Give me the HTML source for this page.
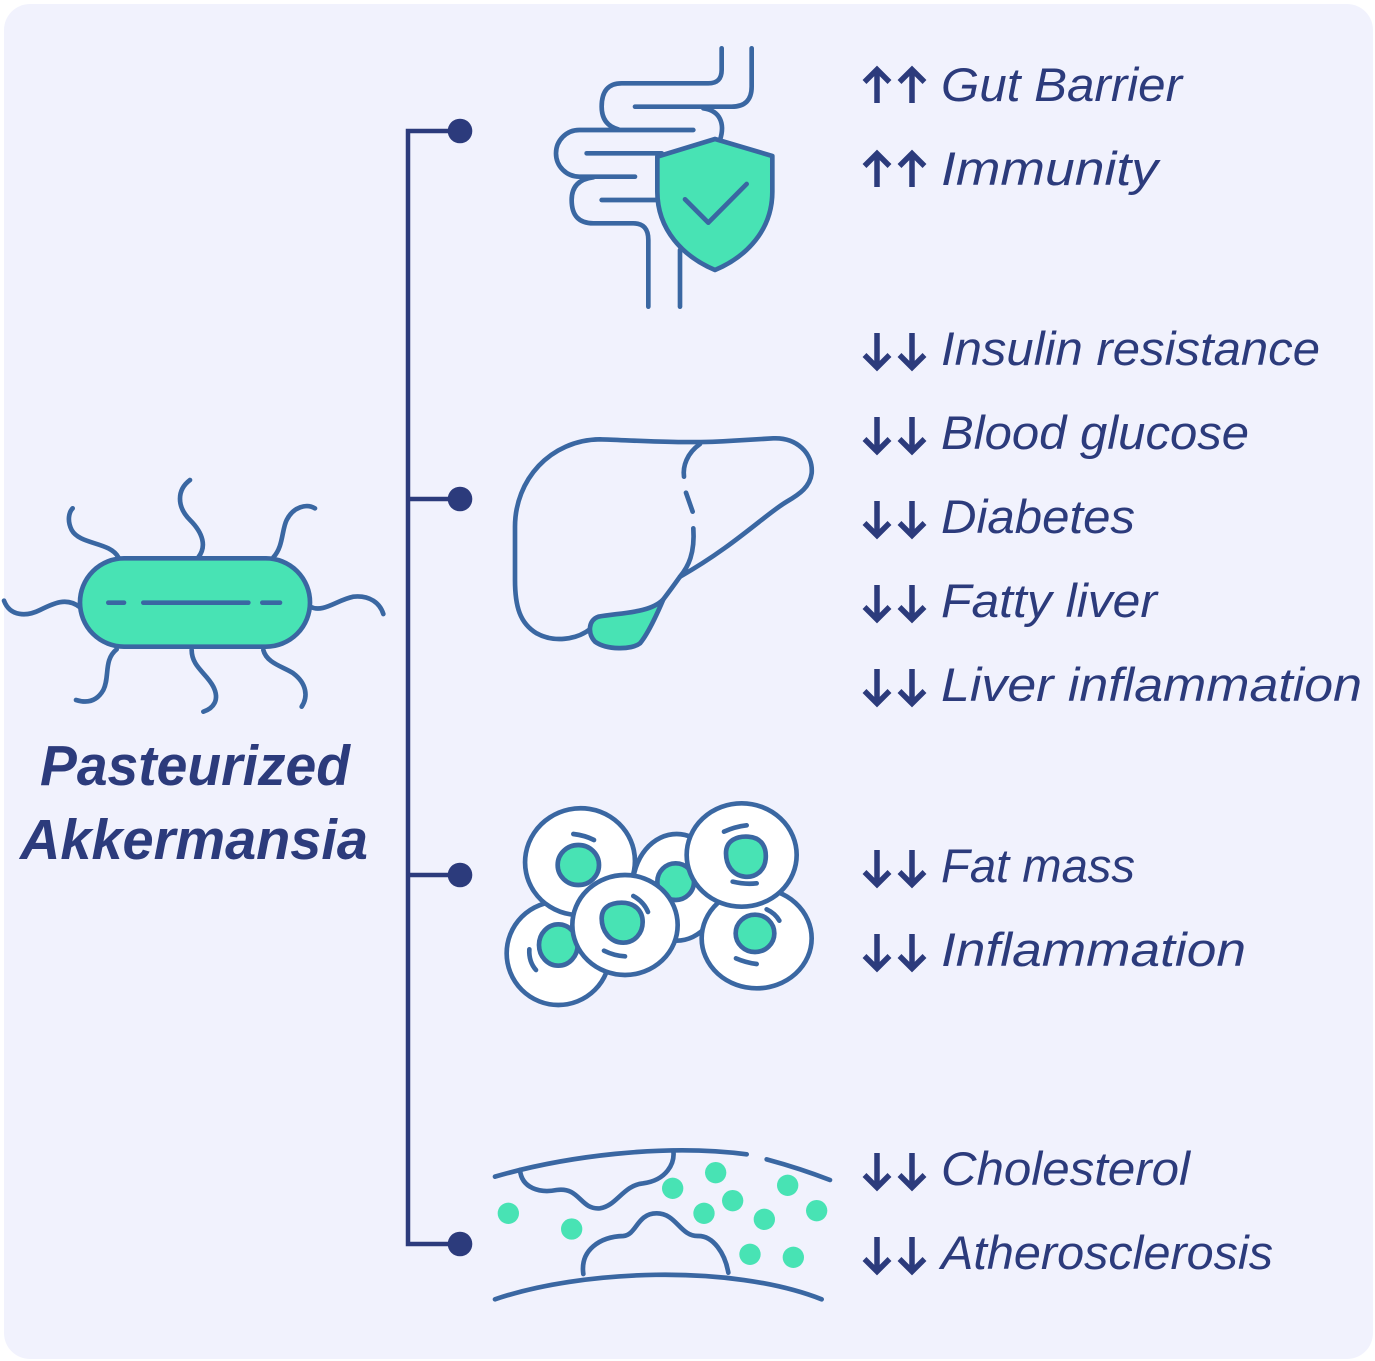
<!DOCTYPE html>
<html>
<head>
<meta charset="utf-8">
<style>
html,body{margin:0;padding:0;background:#ffffff;}
body{width:1375px;height:1361px;overflow:hidden;}
svg{display:block;}
.t{font-family:"Liberation Sans",sans-serif;font-style:italic;font-size:47px;fill:#2c3b7c;}
.ttl{font-family:"Liberation Sans",sans-serif;font-style:italic;font-weight:bold;font-size:57px;fill:#2c3b7c;}
.ic{fill:none;stroke:#3a67a2;stroke-width:14;stroke-linecap:round;stroke-linejoin:round;}
.icf{stroke:#3a67a2;stroke-width:14;stroke-linejoin:round;}
.ar{fill:none;stroke:#2c3b7c;stroke-width:5.5;stroke-linecap:butt;stroke-linejoin:miter;}
</style>
</head>
<body>
<svg width="1375" height="1361" viewBox="0 0 1375 1361" xmlns="http://www.w3.org/2000/svg">
  <rect x="4" y="4" width="1369" height="1355" rx="26" ry="26" fill="#f1f2fd"/>

  <!-- connector -->
  <g stroke="#2c3b7c" stroke-width="4.5" fill="none">
    <path d="M460,131 H408 V1244 H460"/>
    <path d="M408,499 H460"/>
    <path d="M408,875 H460"/>
  </g>
  <g fill="#2c3b7c">
    <circle cx="460" cy="131" r="12.3"/>
    <circle cx="460" cy="499" r="12.3"/>
    <circle cx="460" cy="875" r="12.3"/>
    <circle cx="460" cy="1244" r="12.3"/>
  </g>

  <!-- Bacterium -->
  <g transform="translate(0,470) scale(0.33333)">
    <path class="ic" d="M355,262 C330,215 240,225 215,180 C200,150 208,125 218,115"/>
    <path class="ic" d="M595,262 C620,230 610,190 570,150 C530,110 530,60 570,30"/>
    <path class="ic" d="M820,262 C850,230 845,180 860,150 C880,110 920,100 945,115"/>
    <path class="ic" d="M240,412 C200,380 160,400 120,420 C80,440 30,440 12,392"/>
    <path class="ic" d="M930,410 C970,430 1010,390 1060,380 C1110,375 1140,400 1150,432"/>
    <path class="ic" d="M350,538 C310,570 330,620 310,660 C290,695 260,700 228,690"/>
    <path class="ic" d="M575,540 C575,590 620,610 640,650 C660,690 640,715 610,725"/>
    <path class="ic" d="M790,540 C800,580 850,590 880,610 C920,640 925,680 905,710"/>
    <rect x="240" y="265" width="690" height="265" rx="132" ry="132" fill="#48e3b4" class="icf"/>
    <path class="ic" d="M325,398 H372 M430,398 H745 M787,398 H840"/>
  </g>

  <text class="ttl" x="195" y="785" text-anchor="middle" textLength="310" lengthAdjust="spacingAndGlyphs">Pasteurized</text>
  <text class="ttl" x="194" y="859" text-anchor="middle" textLength="348" lengthAdjust="spacingAndGlyphs">Akkermansia</text>

  <!-- Intestine + shield -->
  <g transform="translate(540,40) scale(0.33333)">
    <path class="ic" d="M545,25 V90 Q545,130 505,130 H245 Q185,130 185,200 Q185,255 235,268"/>
    <path class="ic" d="M635,25 V140 Q635,200 575,200 H285"/>
    <path class="ic" d="M490,205 C540,212 556,250 540,300"/>
    <path class="ic" d="M460,270 H118 A70,70 0 0 0 118,410 H285"/>
    <path class="ic" d="M140,340 H365"/>
    <path class="ic" d="M185,480 H365"/>
    <path class="ic" d="M160,412 Q95,420 95,480 Q95,550 160,550 H280 Q325,550 325,600 V800"/>
    <path class="ic" d="M420,630 V800"/>
    <path class="icf" fill="#48e3b4" d="M525,297 L697,348 V455 C697,570 620,650 525,690 C430,650 352,570 352,455 V350 Z"/>
    <path class="ic" d="M435,478 L505,548 L620,432"/>
  </g>

  <!-- Liver -->
  <g transform="translate(500,420) scale(0.33333)">
    <path class="ic" d="M272,626 C230,660 160,668 110,640 C60,610 45,560 45,480 V320 C45,180 150,60 300,58 C420,62 560,72 700,62 L820,55 C890,52 940,100 935,160 C930,200 900,222 860,245 C800,280 700,380 540,470"/>
    <path class="ic" d="M600,72 C560,100 548,140 552,170"/>
    <path class="ic" d="M558,218 L578,275"/>
    <path class="ic" d="M580,325 C585,400 565,440 540,470 C515,505 500,525 490,538"/>
    <path class="icf" fill="#48e3b4" d="M490,538 C450,580 360,578 295,590 C265,600 262,640 285,665 C320,690 395,690 420,670 C445,640 470,585 490,538 Z"/>
  </g>

  <!-- Cells -->
  <g transform="translate(490,790) scale(0.33333)">
    <ellipse class="icf" fill="#ffffff" cx="560" cy="292" rx="132" ry="160"/>
    <circle class="icf" fill="#48e3b4" cx="557" cy="275" r="55"/>
    <ellipse class="icf" fill="#ffffff" cx="205" cy="490" rx="155" ry="155"/>
    <ellipse class="icf" fill="#48e3b4" cx="205" cy="465" rx="58" ry="62"/>
    <path class="ic" d="M118,478 Q116,515 138,540"/>
    <ellipse class="icf" fill="#ffffff" cx="270" cy="215" rx="165" ry="160" transform="rotate(-12 270 215)"/>
    <ellipse class="icf" fill="#48e3b4" cx="265" cy="225" rx="62" ry="60"/>
    <path class="ic" d="M250,132 Q285,136 312,150"/>
    <ellipse class="icf" fill="#ffffff" cx="800" cy="445" rx="165" ry="150"/>
    <ellipse class="icf" fill="#48e3b4" cx="795" cy="430" rx="58" ry="56"/>
    <path class="ic" d="M830,358 Q856,370 868,392 M738,505 Q768,518 800,522"/>
    <ellipse class="icf" fill="#ffffff" cx="755" cy="195" rx="165" ry="155"/>
    <path class="icf" fill="#48e3b4" d="M708,190 C708,150 742,138 775,140 C818,143 830,175 827,207 C824,242 796,264 764,260 C728,256 708,226 708,190 Z"/>
    <path class="ic" d="M702,125 Q735,110 770,106 M728,275 Q765,284 800,280"/>
    <ellipse class="icf" fill="#ffffff" cx="405" cy="405" rx="158" ry="150"/>
    <path class="icf" fill="#48e3b4" d="M335,385 C335,353 360,338 395,338 C434,338 458,362 458,396 C458,430 434,458 400,458 C358,458 335,420 335,385 Z"/>
    <path class="ic" d="M430,318 Q462,336 474,366 M342,482 Q372,497 405,499"/>
  </g>

  <!-- Artery -->
  <g transform="translate(480,1130) scale(0.33333)">
    <path class="ic" d="M45,140 C250,80 550,40 800,73"/>
    <path class="ic" d="M860,88 Q960,115 1050,150"/>
    <path class="ic" d="M45,508 C300,420 750,400 1025,508"/>
    <path class="ic" d="M120,120 C125,175 180,190 230,180 C300,170 300,240 360,235 C410,228 430,165 490,160 C560,150 585,100 580,62"/>
    <path class="ic" d="M310,432 C300,360 360,320 430,318 C470,315 470,250 530,250 C590,250 600,320 655,318 C700,318 735,370 745,428"/>
    <g fill="#48e3b4">
      <circle cx="85" cy="250" r="32"/>
      <circle cx="275" cy="297" r="32"/>
      <circle cx="578" cy="175" r="32"/>
      <circle cx="707" cy="128" r="32"/>
      <circle cx="672" cy="250" r="32"/>
      <circle cx="758" cy="212" r="32"/>
      <circle cx="853" cy="268" r="32"/>
      <circle cx="810" cy="373" r="32"/>
      <circle cx="923" cy="166" r="32"/>
      <circle cx="940" cy="382" r="32"/>
      <circle cx="1010" cy="242" r="32"/>
    </g>
  </g>

  <!-- Arrows -->
  <defs>
    <g id="up">
      <path class="ar" d="M0,0 V-33 M-12.5,-21 L0,-33.5 L12.5,-21"/>
    </g>
    <g id="dn">
      <path class="ar" d="M0,-34 V0 M-12.5,-12 L0,0.5 L12.5,-12"/>
    </g>
  </defs>
  <use href="#up" x="877" y="103"/><use href="#up" x="912" y="103"/>
  <use href="#up" x="877" y="187"/><use href="#up" x="912" y="187"/>
  <use href="#dn" x="877" y="367"/><use href="#dn" x="912" y="367"/>
  <use href="#dn" x="877" y="451"/><use href="#dn" x="912" y="451"/>
  <use href="#dn" x="877" y="535"/><use href="#dn" x="912" y="535"/>
  <use href="#dn" x="877" y="619"/><use href="#dn" x="912" y="619"/>
  <use href="#dn" x="877" y="703"/><use href="#dn" x="912" y="703"/>
  <use href="#dn" x="877" y="884"/><use href="#dn" x="912" y="884"/>
  <use href="#dn" x="877" y="968"/><use href="#dn" x="912" y="968"/>
  <use href="#dn" x="877" y="1187"/><use href="#dn" x="912" y="1187"/>
  <use href="#dn" x="877" y="1271"/><use href="#dn" x="912" y="1271"/>

  <!-- Labels -->
  <text class="t" x="941" y="101" textLength="241" lengthAdjust="spacingAndGlyphs">Gut Barrier</text>
  <text class="t" x="941" y="185" textLength="217" lengthAdjust="spacingAndGlyphs">Immunity</text>
  <text class="t" x="941" y="365" textLength="379" lengthAdjust="spacingAndGlyphs">Insulin resistance</text>
  <text class="t" x="941" y="449" textLength="308" lengthAdjust="spacingAndGlyphs">Blood glucose</text>
  <text class="t" x="941" y="533" textLength="194" lengthAdjust="spacingAndGlyphs">Diabetes</text>
  <text class="t" x="941" y="617" textLength="216" lengthAdjust="spacingAndGlyphs">Fatty liver</text>
  <text class="t" x="941" y="701" textLength="421" lengthAdjust="spacingAndGlyphs">Liver inflammation</text>
  <text class="t" x="941" y="882" textLength="194" lengthAdjust="spacingAndGlyphs">Fat mass</text>
  <text class="t" x="941" y="966" textLength="305" lengthAdjust="spacingAndGlyphs">Inflammation</text>
  <text class="t" x="941" y="1185" textLength="249" lengthAdjust="spacingAndGlyphs">Cholesterol</text>
  <text class="t" x="941" y="1269" textLength="332" lengthAdjust="spacingAndGlyphs">Atherosclerosis</text>
</svg>
</body>
</html>
